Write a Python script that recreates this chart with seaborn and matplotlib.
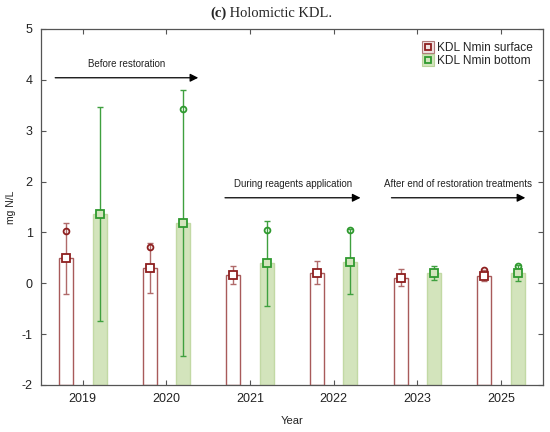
import numpy as np
import pandas as pd
import matplotlib
matplotlib.use("Agg")
import matplotlib.pyplot as plt
import seaborn as sns
from matplotlib.lines import Line2D


years = ["2019", "2020", "2021", "2022", "2023", "2025"]
series = ["KDL Nmin surface", "KDL Nmin bottom"]

surface_mean = [0.49, 0.30, 0.16, 0.21, 0.11, 0.15]
surface_err = [0.70, 0.49, 0.17, 0.23, 0.17, 0.11]
surface_circle = [1.03, 0.71, 0.16, 0.21, 0.11, 0.25]

bottom_mean = [1.36, 1.18, 0.39, 0.42, 0.20, 0.20]
bottom_err = [2.11, 2.62, 0.83, 0.64, 0.14, 0.15]
bottom_circle = [1.36, 3.42, 1.05, 1.04, 0.20, 0.34]

phase_labels = ["Before restoration", "During reagents application",
                "After end of restoration treatments"]
phase_x = [(-0.33, 1.38), (1.70, 3.32), (3.69, 5.29)]
phase_y = [4.04, 1.68, 1.68]

YMIN, YMAX = -2, 5

fill_colors = ["#ffffff", "#d3e4bc"]
edge_colors = ["#a85a5a", "#c2d9a4"]
mark_colors = ["#8e1f1f", "#2f9a2f"]
err_colors = ["#b06a6a", "#3fa03f"]

df = pd.DataFrame({
    "Year": years * 2,
    "series": [series[0]] * len(years) + [series[1]] * len(years),
    "value": surface_mean + bottom_mean,
})

sns.set_style("ticks")
plt.rcParams["font.family"] = ["Liberation Sans", "DejaVu Sans"]
plt.rcParams["axes.unicode_minus"] = False

fig = plt.figure(figsize=(5.5, 4.32), dpi=100)
ax = fig.add_axes([0.0745, 0.109, 0.9125, 0.824])

sns.barplot(data=df, x="Year", y="value", hue="series", order=years,
            hue_order=series, palette=fill_colors, width=0.8, gap=0.58,
            linewidth=1.0, legend=False, ax=ax, errorbar=None)

means = [surface_mean, bottom_mean]
errs = [surface_err, bottom_err]
circles = [surface_circle, bottom_circle]

bar_conts = list(ax.containers)
for i, cont in enumerate(bar_conts):
    centers = []
    for p in cont.patches:
        h = p.get_height()
        p.set_y(YMIN)
        p.set_height(h - YMIN)
        p.set_edgecolor(edge_colors[i])
        p.set_facecolor(fill_colors[i])
        centers.append(p.get_x() + p.get_width() / 2)
    ax.errorbar(centers, means[i], yerr=errs[i], fmt="none",
                ecolor=err_colors[i], elinewidth=1.0, capsize=2.5,
                capthick=1.0, zorder=3)
    ax.plot(centers, circles[i], "o", ms=4.2, mfc="none", mec=mark_colors[i],
            mew=1.3, zorder=4)
    ax.plot(centers, means[i], "s", ms=5.5, mfc=fill_colors[i],
            mec=mark_colors[i], mew=1.3, zorder=5)

for label, (x0, x1), y in zip(phase_labels, phase_x, phase_y):
    ax.annotate("", xy=(x1, y), xytext=(x0, y),
                arrowprops=dict(arrowstyle="-|>", color="black", lw=0.9,
                                mutation_scale=12, shrinkA=0, shrinkB=0))
    ax.text((x0 + x1) / 2, y + 0.17, label, ha="center", va="bottom",
            fontsize=7, color="#222222")

ax.set_xlim(-0.5, 5.5)
ax.set_ylim(YMIN, YMAX)
ax.set_yticks(np.arange(YMIN, YMAX + 1, 1))
ax.set_xlabel("Year", fontsize=8, color="#222222", labelpad=8)
ax.set_ylabel("mg N/L", fontsize=7.5, color="#222222", labelpad=4)
ax.tick_params(direction="in", top=True, right=True, length=3.5,
               labelsize=9, color="#555555", labelcolor="#222222", pad=6)
for s in ax.spines.values():
    s.set_color("#555555")
    s.set_linewidth(0.9)

handles = []
for i in range(2):
    outer = Line2D([], [], marker="s", ls="none", ms=9,
                   mfc="#f0e2e2" if i == 0 else "#d3e4bc",
                   mec="#b07a7a" if i == 0 else "#b9d39a", mew=0.8)
    inner = Line2D([], [], marker="s", ls="none", ms=4.5, mfc="none",
                   mec=mark_colors[i], mew=1.3)
    handles.append((outer, inner))
ax.legend(handles, series, loc="upper right", frameon=False, fontsize=8.6,
          handlelength=1.0, handletextpad=0.3, labelspacing=0.1,
          borderaxespad=0.4, bbox_to_anchor=(1.0, 0.99))

t1 = fig.text(0.382, 0.962, "(c)", fontsize=10.5, weight="bold",
              family=["Liberation Serif", "DejaVu Serif"], va="baseline")
ax.annotate(" Holomictic KDL.", xy=(1, 0), xycoords=t1, va="bottom",
            fontsize=10.5, family=["Liberation Serif", "DejaVu Serif"],
            annotation_clip=False)

fig.savefig("out.png", dpi=100)
